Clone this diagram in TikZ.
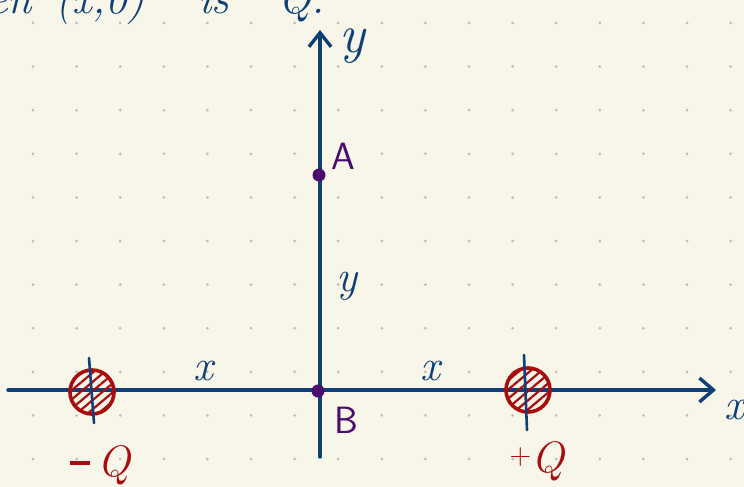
\documentclass[tikz,border=0pt]{standalone}
\usepackage{tikz}
\usetikzlibrary{patterns.meta, arrows.meta}
\definecolor{paper}{HTML}{F8F5E9}
\definecolor{ink}{HTML}{0E3F78}
\definecolor{chargered}{HTML}{A80C0C}
\definecolor{ptcol}{HTML}{4A0B6B}
\definecolor{griddot}{HTML}{BDBDBD}
\begin{document}
\begin{tikzpicture}[x=1pt, y=-1pt,
    axis/.style={ink, line width=3.4pt, line cap=round},
    chargeball/.style={circle, draw=chargered, line width=3.6pt, minimum size=44pt,
        pattern={Lines[angle=40, distance=7pt, line width=2.2pt]}, pattern color=chargered},
    tick/.style={ink, line width=2.6pt, line cap=round},
    dotpt/.style={circle, fill=ptcol, inner sep=0pt, minimum size=13pt},
    lbl/.style={inner sep=0pt, font=\fontsize{44}{46}\selectfont\itshape},
    ptlbl/.style={inner sep=0pt, ptcol, font=\fontsize{38}{40}\selectfont\sffamily}]
    \fill[paper] (0,0) rectangle (744,487);
    \useasboundingbox (0,0) rectangle (744,487);
    % dot grid
    \foreach \i in {0,...,16}
        \foreach \j in {0,...,10}
            \fill[griddot] (33+43.6*\i, 23+43.6*\j) circle (1.5pt);
    % axes
    \coordinate (xstart) at (8,390);
    \coordinate (xend) at (716,390);
    \coordinate (ystart) at (320,457);
    \coordinate (yend) at (320,30);
    \draw[axis, -{Straight Barb[length=14pt, width=24pt, line width=3.4pt]}] (xstart) -- (xend);
    \draw[axis, -{Straight Barb[length=14pt, width=22pt, line width=3.4pt]}] (ystart) -- (yend);
    \node[lbl, ink, anchor=west] (xaxis) at (724,410) {x};
    \node[lbl, ink, font=\fontsize{54}{56}\selectfont\itshape] (yaxis) at (352,46) {y};
    % points
    \node[dotpt] (ptA) at (319,175) {};
    \node[dotpt] (ptB) at (318,391) {};
    \node[ptlbl] (labA) at (343,156) {A};
    \node[ptlbl] (labB) at (346,420) {B};
    \node[lbl, ink] (ydist) at (347,286) {y};
    \node[lbl, ink] (xleft) at (203,371) {x};
    \node[lbl, ink] (xright) at (430,371) {x};
    % charges
    \node[chargeball] (qneg) at (92,392) {};
    \node[chargeball] (qpos) at (528,390) {};
    \draw[tick] (89,358) -- (94,423);
    \draw[tick] (524,355) -- (527,430);
    \node[lbl, chargered, anchor=base] (labneg) at (100,476) {\rule[11pt]{20pt}{4pt}\,Q};
    \node[lbl, chargered, anchor=base] (labpos) at (537,472) {\raisebox{8pt}{\fontsize{30}{32}\selectfont\upshape+}Q};
    % cut-off heading
    \node[lbl, ink, anchor=base west] (head1) at (-12,14) {en};
    \node[lbl, ink, anchor=base west] (head2) at (55,14) {(x,0)};
    \node[lbl, ink, anchor=base west] (head3) at (198,14) {is};
    \node[lbl, ink, anchor=base west] (head4) at (278,14) {Q.};
\end{tikzpicture}
\end{document}
